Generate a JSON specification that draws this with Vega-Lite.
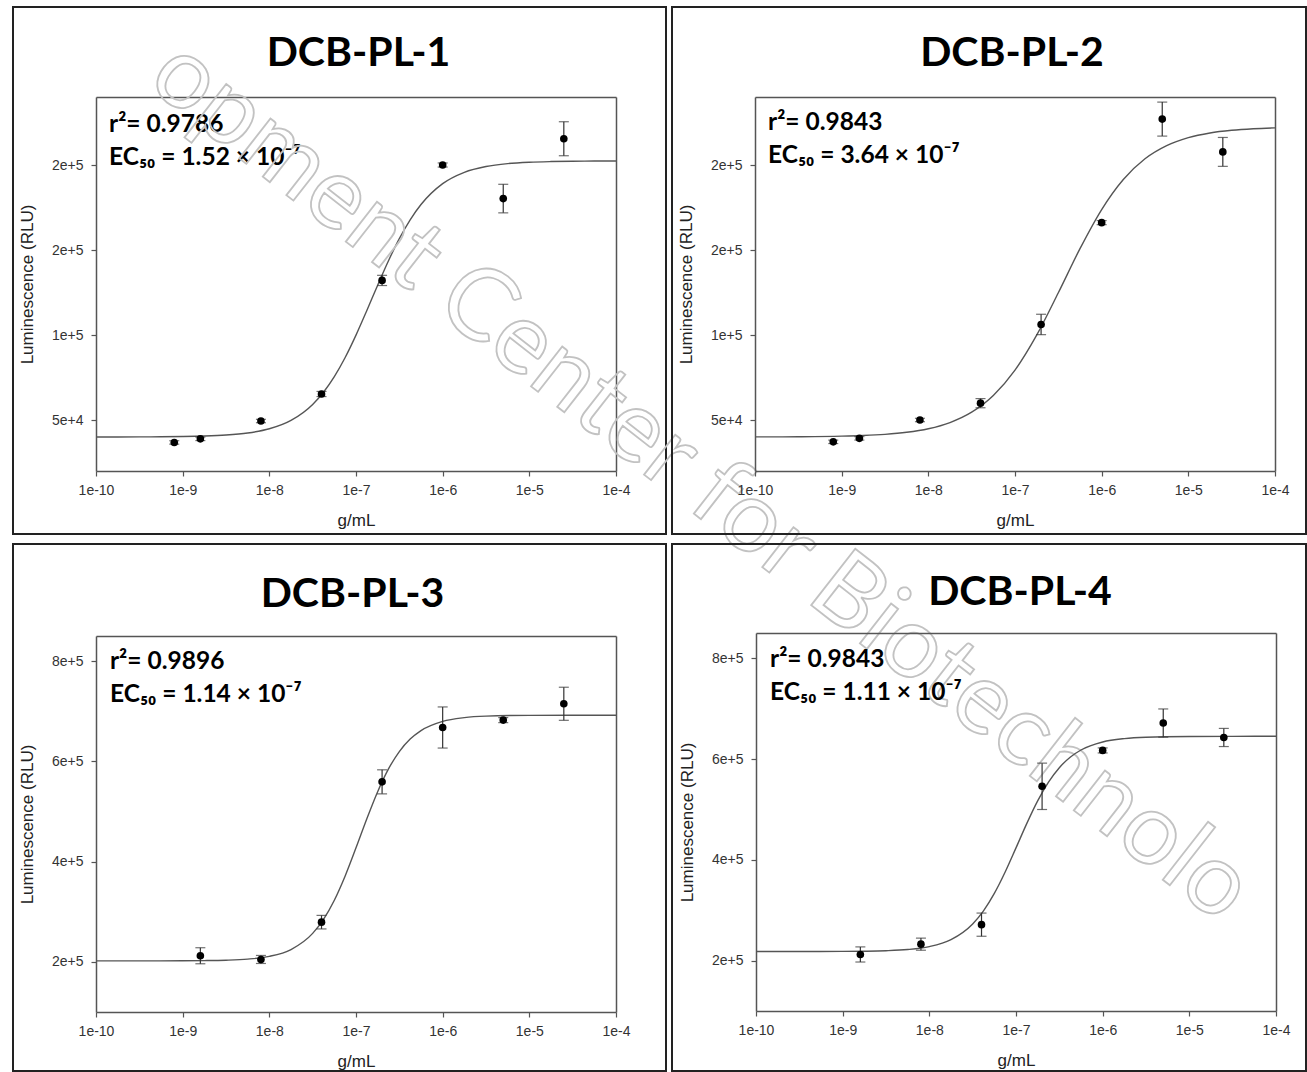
{
  "$schema": "https://vega.github.io/schema/vega-lite/v6.json",
  "padding": {"left": 12, "top": 6, "right": 0, "bottom": 0},
  "autosize": {"type": "pad"},
  "background": "white",
  "columns": 2,
  "spacing": {"row": 10, "column": 6},
  "bounds": "flush",
  "config": {
    "view": {"stroke": "#222", "strokeWidth": 2},
    "title": {"font": "Lato", "fontSize": 41, "fontWeight": "bold", "color": "#000", "anchor": "middle", "baseline": "alphabetic"},
    "axis": {
      "grid": false,
      "labelFont": "Liberation Sans", "labelFontSize": 14, "labelColor": "#333",
      "titleFont": "Liberation Sans", "titleFontSize": 17, "titleColor": "#222", "titleFontWeight": "normal",
      "domainColor": "#555", "domainWidth": 1.5, "tickColor": "#555", "tickSize": 5, "tickWidth": 1.2
    },
    "axisX": {"labelPadding": 7, "titlePadding": 15, "labelFlush": false},
    "axisY": {"labelPadding": 8, "titlePadding": 15}
  },
  "datasets": {
    "points": [
      {"panel": "DCB-PL-1", "conc": 8e-10, "lum": 36800, "lo": 35800, "hi": 37800},
      {"panel": "DCB-PL-1", "conc": 1.6e-9, "lum": 38900, "lo": 37900, "hi": 39900},
      {"panel": "DCB-PL-1", "conc": 8e-9, "lum": 49400, "lo": 48400, "hi": 50400},
      {"panel": "DCB-PL-1", "conc": 4e-8, "lum": 65300, "lo": 63800, "hi": 66800},
      {"panel": "DCB-PL-1", "conc": 2e-7, "lum": 132100, "lo": 129100, "hi": 135100},
      {"panel": "DCB-PL-1", "conc": 1e-6, "lum": 200000, "lo": 198800, "hi": 201200},
      {"panel": "DCB-PL-1", "conc": 5e-6, "lum": 180250, "lo": 171850, "hi": 188650},
      {"panel": "DCB-PL-1", "conc": 2.5e-5, "lum": 215450, "lo": 205450, "hi": 225450},
      {"panel": "DCB-PL-2", "conc": 8e-10, "lum": 37150, "lo": 36150, "hi": 38150},
      {"panel": "DCB-PL-2", "conc": 1.6e-9, "lum": 39200, "lo": 38200, "hi": 40200},
      {"panel": "DCB-PL-2", "conc": 8e-9, "lum": 50000, "lo": 49000, "hi": 51000},
      {"panel": "DCB-PL-2", "conc": 4e-8, "lum": 59900, "lo": 57200, "hi": 62600},
      {"panel": "DCB-PL-2", "conc": 2e-7, "lum": 106200, "lo": 100200, "hi": 112200},
      {"panel": "DCB-PL-2", "conc": 1e-6, "lum": 166100, "lo": 164900, "hi": 167300},
      {"panel": "DCB-PL-2", "conc": 5e-6, "lum": 227000, "lo": 217000, "hi": 237000},
      {"panel": "DCB-PL-2", "conc": 2.5e-5, "lum": 207700, "lo": 199200, "hi": 216200},
      {"panel": "DCB-PL-3", "conc": 1.6e-9, "lum": 212200, "lo": 196200, "hi": 228200},
      {"panel": "DCB-PL-3", "conc": 8e-9, "lum": 204800, "lo": 196800, "hi": 212800},
      {"panel": "DCB-PL-3", "conc": 4e-8, "lum": 279200, "lo": 265700, "hi": 292700},
      {"panel": "DCB-PL-3", "conc": 2e-7, "lum": 559100, "lo": 535100, "hi": 583100},
      {"panel": "DCB-PL-3", "conc": 1e-6, "lum": 667500, "lo": 626500, "hi": 708500},
      {"panel": "DCB-PL-3", "conc": 5e-6, "lum": 682200, "lo": 677200, "hi": 687200},
      {"panel": "DCB-PL-3", "conc": 2.5e-5, "lum": 714800, "lo": 681800, "hi": 747800},
      {"panel": "DCB-PL-4", "conc": 1.6e-9, "lum": 212200, "lo": 197200, "hi": 227200},
      {"panel": "DCB-PL-4", "conc": 8e-9, "lum": 232600, "lo": 220600, "hi": 244600},
      {"panel": "DCB-PL-4", "conc": 4e-8, "lum": 271300, "lo": 248300, "hi": 294300},
      {"panel": "DCB-PL-4", "conc": 2e-7, "lum": 545800, "lo": 499800, "hi": 591800},
      {"panel": "DCB-PL-4", "conc": 1e-6, "lum": 617000, "lo": 612000, "hi": 622000},
      {"panel": "DCB-PL-4", "conc": 5e-6, "lum": 671300, "lo": 643300, "hi": 699300},
      {"panel": "DCB-PL-4", "conc": 2.5e-5, "lum": 642700, "lo": 624700, "hi": 660700}
    ],
    "fit": [
      {"panel": "DCB-PL-1", "conc": 1e-10, "fit": 40014},
      {"panel": "DCB-PL-1", "conc": 1.778e-10, "fit": 40029},
      {"panel": "DCB-PL-1", "conc": 3.162e-10, "fit": 40060},
      {"panel": "DCB-PL-1", "conc": 5.623e-10, "fit": 40125},
      {"panel": "DCB-PL-1", "conc": 1e-9, "fit": 40261},
      {"panel": "DCB-PL-1", "conc": 1.778e-9, "fit": 40545},
      {"panel": "DCB-PL-1", "conc": 3.162e-9, "fit": 41134},
      {"panel": "DCB-PL-1", "conc": 5.623e-9, "fit": 42351},
      {"panel": "DCB-PL-1", "conc": 1e-8, "fit": 44836},
      {"panel": "DCB-PL-1", "conc": 1.778e-8, "fit": 49783},
      {"panel": "DCB-PL-1", "conc": 3.162e-8, "fit": 59184},
      {"panel": "DCB-PL-1", "conc": 4.217e-8, "fit": 66340},
      {"panel": "DCB-PL-1", "conc": 5.623e-8, "fit": 75513},
      {"panel": "DCB-PL-1", "conc": 7.499e-8, "fit": 86770},
      {"panel": "DCB-PL-1", "conc": 1e-7, "fit": 99929},
      {"panel": "DCB-PL-1", "conc": 1.334e-7, "fit": 114400},
      {"panel": "DCB-PL-1", "conc": 1.778e-7, "fit": 129300},
      {"panel": "DCB-PL-1", "conc": 2.371e-7, "fit": 143700},
      {"panel": "DCB-PL-1", "conc": 3.162e-7, "fit": 156700},
      {"panel": "DCB-PL-1", "conc": 4.217e-7, "fit": 167780},
      {"panel": "DCB-PL-1", "conc": 5.623e-7, "fit": 176750},
      {"panel": "DCB-PL-1", "conc": 1e-6, "fit": 189040},
      {"panel": "DCB-PL-1", "conc": 1.778e-6, "fit": 195710},
      {"panel": "DCB-PL-1", "conc": 3.162e-6, "fit": 199130},
      {"panel": "DCB-PL-1", "conc": 5.623e-6, "fit": 200820},
      {"panel": "DCB-PL-1", "conc": 1e-5, "fit": 201640},
      {"panel": "DCB-PL-1", "conc": 1.778e-5, "fit": 202030},
      {"panel": "DCB-PL-1", "conc": 3.162e-5, "fit": 202225},
      {"panel": "DCB-PL-1", "conc": 5.623e-5, "fit": 202316},
      {"panel": "DCB-PL-1", "conc": 1e-4, "fit": 202360},
      {"panel": "DCB-PL-2", "conc": 1e-10, "fit": 40050},
      {"panel": "DCB-PL-2", "conc": 3.162e-10, "fit": 40158},
      {"panel": "DCB-PL-2", "conc": 1e-9, "fit": 40500},
      {"panel": "DCB-PL-2", "conc": 1.778e-9, "fit": 40888},
      {"panel": "DCB-PL-2", "conc": 3.162e-9, "fit": 41572},
      {"panel": "DCB-PL-2", "conc": 5.623e-9, "fit": 42778},
      {"panel": "DCB-PL-2", "conc": 1e-8, "fit": 44880},
      {"panel": "DCB-PL-2", "conc": 1.778e-8, "fit": 48505},
      {"panel": "DCB-PL-2", "conc": 3.162e-8, "fit": 54589},
      {"panel": "DCB-PL-2", "conc": 5.623e-8, "fit": 64430},
      {"panel": "DCB-PL-2", "conc": 1e-7, "fit": 79340},
      {"panel": "DCB-PL-2", "conc": 1.778e-7, "fit": 99915},
      {"panel": "DCB-PL-2", "conc": 3.162e-7, "fit": 124840},
      {"panel": "DCB-PL-2", "conc": 5.623e-7, "fit": 150800},
      {"panel": "DCB-PL-2", "conc": 1e-6, "fit": 173810},
      {"panel": "DCB-PL-2", "conc": 1.778e-6, "fit": 191500},
      {"panel": "DCB-PL-2", "conc": 3.162e-6, "fit": 203660},
      {"panel": "DCB-PL-2", "conc": 5.623e-6, "fit": 211400},
      {"panel": "DCB-PL-2", "conc": 1e-5, "fit": 216090},
      {"panel": "DCB-PL-2", "conc": 1.778e-5, "fit": 218850},
      {"panel": "DCB-PL-2", "conc": 3.162e-5, "fit": 220420},
      {"panel": "DCB-PL-2", "conc": 5.623e-5, "fit": 221330},
      {"panel": "DCB-PL-2", "conc": 1e-4, "fit": 221840},
      {"panel": "DCB-PL-3", "conc": 1e-10, "fit": 202004},
      {"panel": "DCB-PL-3", "conc": 3.162e-10, "fit": 202030},
      {"panel": "DCB-PL-3", "conc": 1e-9, "fit": 202200},
      {"panel": "DCB-PL-3", "conc": 1.778e-9, "fit": 202518},
      {"panel": "DCB-PL-3", "conc": 3.162e-9, "fit": 203346},
      {"panel": "DCB-PL-3", "conc": 5.623e-9, "fit": 205484},
      {"panel": "DCB-PL-3", "conc": 1e-8, "fit": 210957},
      {"panel": "DCB-PL-3", "conc": 1.778e-8, "fit": 224633},
      {"panel": "DCB-PL-3", "conc": 3.162e-8, "fit": 256810},
      {"panel": "DCB-PL-3", "conc": 4.217e-8, "fit": 284760},
      {"panel": "DCB-PL-3", "conc": 5.623e-8, "fit": 322980},
      {"panel": "DCB-PL-3", "conc": 7.499e-8, "fit": 371390},
      {"panel": "DCB-PL-3", "conc": 1e-7, "fit": 427400},
      {"panel": "DCB-PL-3", "conc": 1.334e-7, "fit": 485560},
      {"panel": "DCB-PL-3", "conc": 1.778e-7, "fit": 539510},
      {"panel": "DCB-PL-3", "conc": 2.371e-7, "fit": 584840},
      {"panel": "DCB-PL-3", "conc": 3.162e-7, "fit": 619480},
      {"panel": "DCB-PL-3", "conc": 4.217e-7, "fit": 644370},
      {"panel": "DCB-PL-3", "conc": 5.623e-7, "fit": 661330},
      {"panel": "DCB-PL-3", "conc": 1e-6, "fit": 679700},
      {"panel": "DCB-PL-3", "conc": 1.778e-6, "fit": 687210},
      {"panel": "DCB-PL-3", "conc": 3.162e-6, "fit": 690140},
      {"panel": "DCB-PL-3", "conc": 1e-5, "fit": 691730},
      {"panel": "DCB-PL-3", "conc": 3.162e-5, "fit": 691960},
      {"panel": "DCB-PL-3", "conc": 1e-4, "fit": 692000},
      {"panel": "DCB-PL-4", "conc": 1e-10, "fit": 218006},
      {"panel": "DCB-PL-4", "conc": 3.162e-10, "fit": 218040},
      {"panel": "DCB-PL-4", "conc": 1e-9, "fit": 218250},
      {"panel": "DCB-PL-4", "conc": 1.778e-9, "fit": 218628},
      {"panel": "DCB-PL-4", "conc": 3.162e-9, "fit": 219573},
      {"panel": "DCB-PL-4", "conc": 5.623e-9, "fit": 221928},
      {"panel": "DCB-PL-4", "conc": 1e-8, "fit": 227736},
      {"panel": "DCB-PL-4", "conc": 1.778e-8, "fit": 241643},
      {"panel": "DCB-PL-4", "conc": 3.162e-8, "fit": 272800},
      {"panel": "DCB-PL-4", "conc": 4.217e-8, "fit": 298790},
      {"panel": "DCB-PL-4", "conc": 5.623e-8, "fit": 333290},
      {"panel": "DCB-PL-4", "conc": 7.499e-8, "fit": 375780},
      {"panel": "DCB-PL-4", "conc": 1e-7, "fit": 423640},
      {"panel": "DCB-PL-4", "conc": 1.334e-7, "fit": 472280},
      {"panel": "DCB-PL-4", "conc": 1.778e-7, "fit": 516900},
      {"panel": "DCB-PL-4", "conc": 2.371e-7, "fit": 554130},
      {"panel": "DCB-PL-4", "conc": 3.162e-7, "fit": 582790},
      {"panel": "DCB-PL-4", "conc": 4.217e-7, "fit": 603540},
      {"panel": "DCB-PL-4", "conc": 5.623e-7, "fit": 617840},
      {"panel": "DCB-PL-4", "conc": 1e-6, "fit": 633760},
      {"panel": "DCB-PL-4", "conc": 1.778e-6, "fit": 640450},
      {"panel": "DCB-PL-4", "conc": 3.162e-6, "fit": 643180},
      {"panel": "DCB-PL-4", "conc": 1e-5, "fit": 644710},
      {"panel": "DCB-PL-4", "conc": 3.162e-5, "fit": 644970},
      {"panel": "DCB-PL-4", "conc": 1e-4, "fit": 645000}
    ],
    "notes": [
      {"panel": "DCB-PL-1", "label": "r²= 0.9786\nEC₅₀ = 1.52 × 10⁻⁷"},
      {"panel": "DCB-PL-2", "label": "r²= 0.9843\nEC₅₀ = 3.64 × 10⁻⁷"},
      {"panel": "DCB-PL-3", "label": "r²= 0.9896\nEC₅₀ = 1.14 × 10⁻⁷"},
      {"panel": "DCB-PL-4", "label": "r²= 0.9843\nEC₅₀ = 1.11 × 10⁻⁷"}
    ],
    "watermark": [
      {"text": "opment Center for Biotechnolo"}
    ]
  },
  "concat": [
    {
      "width": 653, "height": 527,
      "title": {"text": "DCB-PL-1", "dx": 19, "offset": -68},
      "layer": [
        {
          "data": {"name": "fit"},
          "transform": [{"filter": "datum.panel === 'DCB-PL-1'"}],
          "mark": {"type": "line", "interpolate": "monotone", "color": "#555", "strokeWidth": 1.4},
          "encoding": {
            "x": {"field": "conc", "type": "quantitative", "scale": {"type": "log", "domain": [1e-10, 1e-4], "range": [83, 603], "nice": false},
                  "axis": {"orient": "bottom", "offset": -63, "values": [1e-10, 1e-9, 1e-8, 1e-7, 1e-6, 1e-5, 1e-4], "format": ".0e", "title": "g/mL"}},
            "y": {"field": "fit", "type": "quantitative", "scale": {"domain": [20000, 240000], "range": [464, 90], "nice": false, "zero": false},
                  "axis": {"orient": "left", "offset": -83, "values": [50000, 100000, 150000, 200000], "format": ".0e", "title": "Luminescence (RLU)"}}
          }
        },
        {
          "data": {"name": "points"},
          "transform": [{"filter": "datum.panel === 'DCB-PL-1'"}],
          "mark": {"type": "rule", "color": "#333", "strokeWidth": 1.2},
          "encoding": {
            "x": {"field": "conc", "type": "quantitative", "scale": {"type": "log", "domain": [1e-10, 1e-4], "range": [83, 603], "nice": false},
                  "axis": {"orient": "top", "offset": -90, "labels": false, "ticks": false, "title": null}},
            "y": {"field": "lo", "type": "quantitative", "scale": {"domain": [20000, 240000], "range": [464, 90], "nice": false, "zero": false},
                  "axis": {"orient": "right", "offset": -50, "labels": false, "ticks": false, "title": null}},
            "y2": {"field": "hi"}
          }
        },
        {
          "data": {"name": "points"},
          "transform": [{"filter": "datum.panel === 'DCB-PL-1'"}, {"fold": ["lo", "hi"], "as": ["end", "bound"]}],
          "mark": {"type": "tick", "orient": "horizontal", "size": 10, "thickness": 1.2, "color": "#333"},
          "encoding": {
            "x": {"field": "conc", "type": "quantitative", "scale": {"type": "log", "domain": [1e-10, 1e-4], "range": [83, 603], "nice": false}, "axis": null},
            "y": {"field": "bound", "type": "quantitative", "scale": {"domain": [20000, 240000], "range": [464, 90], "nice": false, "zero": false}, "axis": null}
          }
        },
        {
          "data": {"name": "points"},
          "transform": [{"filter": "datum.panel === 'DCB-PL-1'"}],
          "mark": {"type": "point", "filled": true, "size": 58, "color": "#000", "opacity": 1},
          "encoding": {
            "x": {"field": "conc", "type": "quantitative", "scale": {"type": "log", "domain": [1e-10, 1e-4], "range": [83, 603], "nice": false}, "axis": null},
            "y": {"field": "lum", "type": "quantitative", "scale": {"domain": [20000, 240000], "range": [464, 90], "nice": false, "zero": false}, "axis": null}
          }
        },
        {
          "data": {"name": "notes"},
          "transform": [{"filter": "datum.panel === 'DCB-PL-1'"}],
          "mark": {"type": "text", "align": "left", "baseline": "alphabetic", "font": "Lato", "fontWeight": "bold", "fontSize": 24.5, "lineBreak": "\n", "lineHeight": 33, "color": "#000"},
          "encoding": {
            "x": {"datum": 1.413e-10, "type": "quantitative", "scale": {"type": "log", "domain": [1e-10, 1e-4], "range": [83, 603], "nice": false}, "axis": null},
            "y": {"datum": 219412, "type": "quantitative", "scale": {"domain": [20000, 240000], "range": [464, 90], "nice": false, "zero": false}, "axis": null},
            "text": {"field": "label"}
          }
        },
        {
          "data": {"name": "watermark"},
          "mark": {"type": "text", "align": "center", "baseline": "middle", "angle": 38, "font": "Lato", "fontSize": 100, "fill": "white", "fillOpacity": 0, "stroke": "#c2c2c2", "strokeWidth": 1.8},
          "encoding": {
            "x": {"datum": 9.57e-4, "type": "quantitative", "scale": {"type": "log", "domain": [1e-10, 1e-4], "range": [83, 603], "nice": false}, "axis": null},
            "y": {"datum": 14118, "type": "quantitative", "scale": {"domain": [20000, 240000], "range": [464, 90], "nice": false, "zero": false}, "axis": null},
            "text": {"field": "text"}
          }
        }
      ],
      "resolve": {"axis": {"x": "independent", "y": "independent"}}
    },
    {
      "width": 634, "height": 527,
      "title": {"text": "DCB-PL-2", "dx": 23, "offset": -68},
      "layer": [
        {
          "data": {"name": "fit"},
          "transform": [{"filter": "datum.panel === 'DCB-PL-2'"}],
          "mark": {"type": "line", "interpolate": "monotone", "color": "#555", "strokeWidth": 1.4},
          "encoding": {
            "x": {"field": "conc", "type": "quantitative", "scale": {"type": "log", "domain": [1e-10, 1e-4], "range": [83, 603], "nice": false},
                  "axis": {"orient": "bottom", "offset": -63, "values": [1e-10, 1e-9, 1e-8, 1e-7, 1e-6, 1e-5, 1e-4], "format": ".0e", "title": "g/mL"}},
            "y": {"field": "fit", "type": "quantitative", "scale": {"domain": [20000, 240000], "range": [464, 90], "nice": false, "zero": false},
                  "axis": {"orient": "left", "offset": -83, "values": [50000, 100000, 150000, 200000], "format": ".0e", "title": "Luminescence (RLU)"}}
          }
        },
        {
          "data": {"name": "points"},
          "transform": [{"filter": "datum.panel === 'DCB-PL-2'"}],
          "mark": {"type": "rule", "color": "#333", "strokeWidth": 1.2},
          "encoding": {
            "x": {"field": "conc", "type": "quantitative", "scale": {"type": "log", "domain": [1e-10, 1e-4], "range": [83, 603], "nice": false},
                  "axis": {"orient": "top", "offset": -90, "labels": false, "ticks": false, "title": null}},
            "y": {"field": "lo", "type": "quantitative", "scale": {"domain": [20000, 240000], "range": [464, 90], "nice": false, "zero": false},
                  "axis": {"orient": "right", "offset": -31, "labels": false, "ticks": false, "title": null}},
            "y2": {"field": "hi"}
          }
        },
        {
          "data": {"name": "points"},
          "transform": [{"filter": "datum.panel === 'DCB-PL-2'"}, {"fold": ["lo", "hi"], "as": ["end", "bound"]}],
          "mark": {"type": "tick", "orient": "horizontal", "size": 10, "thickness": 1.2, "color": "#333"},
          "encoding": {
            "x": {"field": "conc", "type": "quantitative", "scale": {"type": "log", "domain": [1e-10, 1e-4], "range": [83, 603], "nice": false}, "axis": null},
            "y": {"field": "bound", "type": "quantitative", "scale": {"domain": [20000, 240000], "range": [464, 90], "nice": false, "zero": false}, "axis": null}
          }
        },
        {
          "data": {"name": "points"},
          "transform": [{"filter": "datum.panel === 'DCB-PL-2'"}],
          "mark": {"type": "point", "filled": true, "size": 58, "color": "#000", "opacity": 1},
          "encoding": {
            "x": {"field": "conc", "type": "quantitative", "scale": {"type": "log", "domain": [1e-10, 1e-4], "range": [83, 603], "nice": false}, "axis": null},
            "y": {"field": "lum", "type": "quantitative", "scale": {"domain": [20000, 240000], "range": [464, 90], "nice": false, "zero": false}, "axis": null}
          }
        },
        {
          "data": {"name": "notes"},
          "transform": [{"filter": "datum.panel === 'DCB-PL-2'"}],
          "mark": {"type": "text", "align": "left", "baseline": "alphabetic", "font": "Lato", "fontWeight": "bold", "fontSize": 24.5, "lineBreak": "\n", "lineHeight": 33, "color": "#000"},
          "encoding": {
            "x": {"datum": 1.413e-10, "type": "quantitative", "scale": {"type": "log", "domain": [1e-10, 1e-4], "range": [83, 603], "nice": false}, "axis": null},
            "y": {"datum": 220590, "type": "quantitative", "scale": {"domain": [20000, 240000], "range": [464, 90], "nice": false, "zero": false}, "axis": null},
            "text": {"field": "label"}
          }
        }
      ],
      "resolve": {"axis": {"x": "independent", "y": "independent"}}
    },
    {
      "width": 653, "height": 527,
      "title": {"text": "DCB-PL-3", "dx": 13, "offset": -72},
      "layer": [
        {
          "data": {"name": "fit"},
          "transform": [{"filter": "datum.panel === 'DCB-PL-3'"}],
          "mark": {"type": "line", "interpolate": "monotone", "color": "#555", "strokeWidth": 1.4},
          "encoding": {
            "x": {"field": "conc", "type": "quantitative", "scale": {"type": "log", "domain": [1e-10, 1e-4], "range": [83, 603], "nice": false},
                  "axis": {"orient": "bottom", "offset": -59, "values": [1e-10, 1e-9, 1e-8, 1e-7, 1e-6, 1e-5, 1e-4], "format": ".0e", "title": "g/mL"}},
            "y": {"field": "fit", "type": "quantitative", "scale": {"domain": [100000, 850000], "range": [468, 92], "nice": false, "zero": false},
                  "axis": {"orient": "left", "offset": -83, "values": [200000, 400000, 600000, 800000], "format": ".0e", "title": "Luminescence (RLU)"}}
          }
        },
        {
          "data": {"name": "points"},
          "transform": [{"filter": "datum.panel === 'DCB-PL-3'"}],
          "mark": {"type": "rule", "color": "#333", "strokeWidth": 1.2},
          "encoding": {
            "x": {"field": "conc", "type": "quantitative", "scale": {"type": "log", "domain": [1e-10, 1e-4], "range": [83, 603], "nice": false},
                  "axis": {"orient": "top", "offset": -92, "labels": false, "ticks": false, "title": null}},
            "y": {"field": "lo", "type": "quantitative", "scale": {"domain": [100000, 850000], "range": [468, 92], "nice": false, "zero": false},
                  "axis": {"orient": "right", "offset": -50, "labels": false, "ticks": false, "title": null}},
            "y2": {"field": "hi"}
          }
        },
        {
          "data": {"name": "points"},
          "transform": [{"filter": "datum.panel === 'DCB-PL-3'"}, {"fold": ["lo", "hi"], "as": ["end", "bound"]}],
          "mark": {"type": "tick", "orient": "horizontal", "size": 10, "thickness": 1.2, "color": "#333"},
          "encoding": {
            "x": {"field": "conc", "type": "quantitative", "scale": {"type": "log", "domain": [1e-10, 1e-4], "range": [83, 603], "nice": false}, "axis": null},
            "y": {"field": "bound", "type": "quantitative", "scale": {"domain": [100000, 850000], "range": [468, 92], "nice": false, "zero": false}, "axis": null}
          }
        },
        {
          "data": {"name": "points"},
          "transform": [{"filter": "datum.panel === 'DCB-PL-3'"}],
          "mark": {"type": "point", "filled": true, "size": 58, "color": "#000", "opacity": 1},
          "encoding": {
            "x": {"field": "conc", "type": "quantitative", "scale": {"type": "log", "domain": [1e-10, 1e-4], "range": [83, 603], "nice": false}, "axis": null},
            "y": {"field": "lum", "type": "quantitative", "scale": {"domain": [100000, 850000], "range": [468, 92], "nice": false, "zero": false}, "axis": null}
          }
        },
        {
          "data": {"name": "notes"},
          "transform": [{"filter": "datum.panel === 'DCB-PL-3'"}],
          "mark": {"type": "text", "align": "left", "baseline": "alphabetic", "font": "Lato", "fontWeight": "bold", "fontSize": 24.5, "lineBreak": "\n", "lineHeight": 33, "color": "#000"},
          "encoding": {
            "x": {"datum": 1.45e-10, "type": "quantitative", "scale": {"type": "log", "domain": [1e-10, 1e-4], "range": [83, 603], "nice": false}, "axis": null},
            "y": {"datum": 783600, "type": "quantitative", "scale": {"domain": [100000, 850000], "range": [468, 92], "nice": false, "zero": false}, "axis": null},
            "text": {"field": "label"}
          }
        }
      ],
      "resolve": {"axis": {"x": "independent", "y": "independent"}}
    },
    {
      "width": 634, "height": 527,
      "title": {"text": "DCB-PL-4", "dx": 31, "offset": -70},
      "layer": [
        {
          "data": {"name": "fit"},
          "transform": [{"filter": "datum.panel === 'DCB-PL-4'"}],
          "mark": {"type": "line", "interpolate": "monotone", "color": "#555", "strokeWidth": 1.4},
          "encoding": {
            "x": {"field": "conc", "type": "quantitative", "scale": {"type": "log", "domain": [1e-10, 1e-4], "range": [84, 604], "nice": false},
                  "axis": {"orient": "bottom", "offset": -60, "values": [1e-10, 1e-9, 1e-8, 1e-7, 1e-6, 1e-5, 1e-4], "format": ".0e", "title": "g/mL"}},
            "y": {"field": "fit", "type": "quantitative", "scale": {"domain": [100000, 850000], "range": [467, 89], "nice": false, "zero": false},
                  "axis": {"orient": "left", "offset": -84, "values": [200000, 400000, 600000, 800000], "format": ".0e", "title": "Luminescence (RLU)"}}
          }
        },
        {
          "data": {"name": "points"},
          "transform": [{"filter": "datum.panel === 'DCB-PL-4'"}],
          "mark": {"type": "rule", "color": "#333", "strokeWidth": 1.2},
          "encoding": {
            "x": {"field": "conc", "type": "quantitative", "scale": {"type": "log", "domain": [1e-10, 1e-4], "range": [84, 604], "nice": false},
                  "axis": {"orient": "top", "offset": -89, "labels": false, "ticks": false, "title": null}},
            "y": {"field": "lo", "type": "quantitative", "scale": {"domain": [100000, 850000], "range": [467, 89], "nice": false, "zero": false},
                  "axis": {"orient": "right", "offset": -30, "labels": false, "ticks": false, "title": null}},
            "y2": {"field": "hi"}
          }
        },
        {
          "data": {"name": "points"},
          "transform": [{"filter": "datum.panel === 'DCB-PL-4'"}, {"fold": ["lo", "hi"], "as": ["end", "bound"]}],
          "mark": {"type": "tick", "orient": "horizontal", "size": 10, "thickness": 1.2, "color": "#333"},
          "encoding": {
            "x": {"field": "conc", "type": "quantitative", "scale": {"type": "log", "domain": [1e-10, 1e-4], "range": [84, 604], "nice": false}, "axis": null},
            "y": {"field": "bound", "type": "quantitative", "scale": {"domain": [100000, 850000], "range": [467, 89], "nice": false, "zero": false}, "axis": null}
          }
        },
        {
          "data": {"name": "points"},
          "transform": [{"filter": "datum.panel === 'DCB-PL-4'"}],
          "mark": {"type": "point", "filled": true, "size": 58, "color": "#000", "opacity": 1},
          "encoding": {
            "x": {"field": "conc", "type": "quantitative", "scale": {"type": "log", "domain": [1e-10, 1e-4], "range": [84, 604], "nice": false}, "axis": null},
            "y": {"field": "lum", "type": "quantitative", "scale": {"domain": [100000, 850000], "range": [467, 89], "nice": false, "zero": false}, "axis": null}
          }
        },
        {
          "data": {"name": "notes"},
          "transform": [{"filter": "datum.panel === 'DCB-PL-4'"}],
          "mark": {"type": "text", "align": "left", "baseline": "alphabetic", "font": "Lato", "fontWeight": "bold", "fontSize": 24.5, "lineBreak": "\n", "lineHeight": 33, "color": "#000"},
          "encoding": {
            "x": {"datum": 1.452e-10, "type": "quantitative", "scale": {"type": "log", "domain": [1e-10, 1e-4], "range": [84, 604], "nice": false}, "axis": null},
            "y": {"datum": 782140, "type": "quantitative", "scale": {"domain": [100000, 850000], "range": [467, 89], "nice": false, "zero": false}, "axis": null},
            "text": {"field": "label"}
          }
        }
      ],
      "resolve": {"axis": {"x": "independent", "y": "independent"}}
    }
  ]
}
